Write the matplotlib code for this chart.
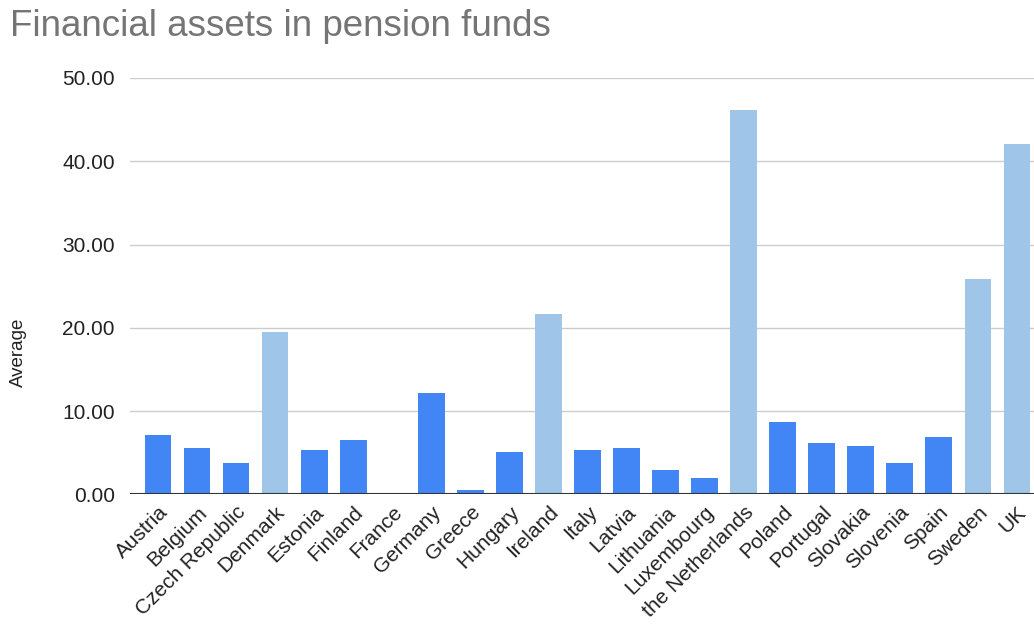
import matplotlib
matplotlib.use("Agg")
import matplotlib.pyplot as plt

countries = ["Austria", "Belgium", "Czech Republic", "Denmark", "Estonia", "Finland",
             "France", "Germany", "Greece", "Hungary", "Ireland", "Italy", "Latvia",
             "Lithuania", "Luxembourg", "the Netherlands", "Poland", "Portugal",
             "Slovakia", "Slovenia", "Spain", "Sweden", "UK"]
average = [7.1, 5.6, 3.8, 19.5, 5.3, 6.5, 0.0, 12.2, 0.5, 5.1, 21.7, 5.3, 5.6,
           2.9, 2.0, 46.1, 8.7, 6.2, 5.8, 3.8, 6.9, 25.9, 42.1]
highlight = ["Denmark", "Ireland", "the Netherlands", "Sweden", "UK"]
y_ticks = [0, 10, 20, 30, 40, 50]

DARK = "#4285F4"
LIGHT = "#9FC5E8"

plt.rcParams["font.family"] = ["Liberation Sans", "DejaVu Sans"]

W, H = 1034, 626
fig = plt.figure(figsize=(W / 100, H / 100), dpi=100)
ax = fig.add_axes([130 / W, 1 - 494.3 / H, (1034 - 130) / W, (494.3 - 78) / H])

colors = [LIGHT if c in highlight else DARK for c in countries]
x = list(range(len(countries)))
ax.bar(x, average, width=0.68, color=colors, zorder=3)

ax.set_xlim(-0.72, len(countries) - 1 + 0.44)
ax.set_ylim(0, 50)
ax.set_yticks(y_ticks)
ax.set_yticklabels([f"{v:.2f}" for v in y_ticks], fontsize=15, color="#222222")
ax.grid(axis="y", color="#cccccc", linewidth=1, zorder=0)
ax.axhline(0, color="#333333", linewidth=1.5, zorder=4)

for s in ax.spines.values():
    s.set_visible(False)
ax.tick_params(axis="y", length=0, pad=11)
ax.tick_params(axis="x", length=0, pad=6)

ax.set_xticks(x)
ax.set_xticklabels(countries, rotation=45, ha="right", rotation_mode="anchor",
                   fontsize=15, color="#222222")

fig.text(18 / W, 1 - 352 / H, "Average", rotation=90, fontsize=13.5,
         color="#222222", ha="center", va="center")
fig.text(10 / W, 1 - 36 / H, "Financial assets in pension funds", fontsize=26.5,
         color="#757575", ha="left", va="baseline")

fig.savefig("out.png", dpi=100, facecolor="white")
